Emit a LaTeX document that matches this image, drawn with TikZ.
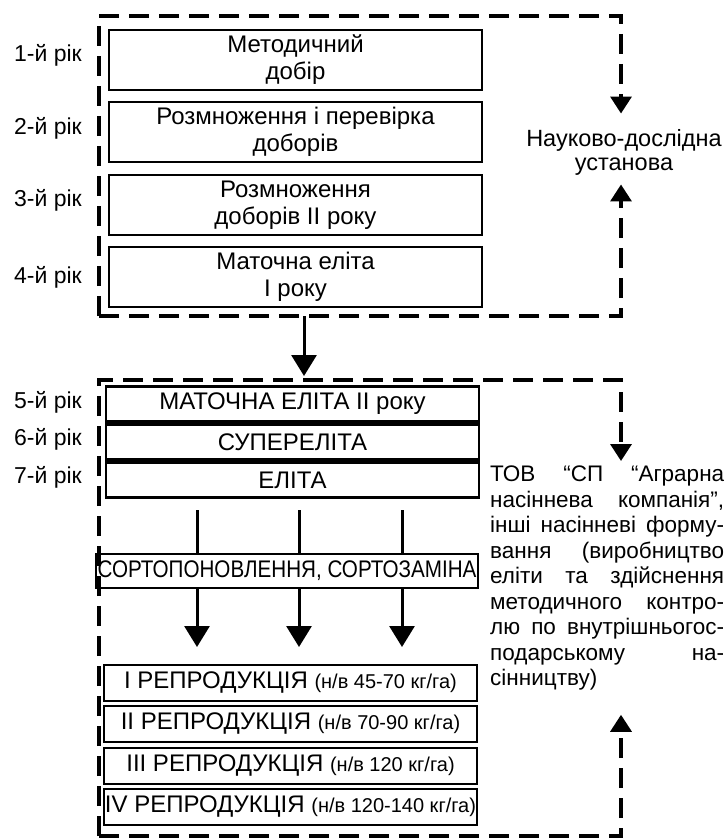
\documentclass[tikz,border=0pt]{standalone}
\usepackage{fontspec}
\setmainfont{Liberation Sans}
\newfontfamily\narrowfont[FakeStretch=0.86]{Liberation Sans}
\usetikzlibrary{arrows.meta}

\newcommand\rate[1]{{\fontsize{20}{22}\selectfont(#1)}}
\newcommand\fullline[1]{\makebox[234pt][l]{#1}}

\tikzset{
  stage/.style={draw,line width=2.2pt,minimum width=373pt,minimum height=60pt,
    inner sep=0pt,align=center,font=\fontsize{24}{27}\selectfont},
  lowstage/.style={stage,minimum height=35pt},
  frame/.style={line width=3.5pt,dash pattern=on 20pt off 10pt},
  sidetip/.style={-{Triangle[width=21pt,length=17pt]}},
  flow/.style={line width=3pt,-{Triangle[width=25pt,length=21pt]}},
  year/.style={font=\fontsize{23}{25}\selectfont}
}

\begin{document}
\begin{tikzpicture}[x=1pt,y=-1pt]
    \useasboundingbox (0,0) rectangle (727,840);

    % years
    \foreach \n/\y in {1/55,2/128,3/200,4/277,5/402,6/439,7/477}
        \node[year] (y\n) at (48,\y) {\n-й рік};

    % research stages
    \node[stage] (b1) at (295.5,60) {Методичний\\добір};
    \node[stage] (b2) at (295.5,132) {Розмноження і перевірка\\доборів};
    \node[stage] (b3) at (295.5,205) {Розмноження\\доборів II року};
    \node[stage] (b4) at (295.5,277) {Маточна еліта\\I року};

    % research frame
    \coordinate (f1sw) at (99,316);
    \coordinate (f1nw) at (99,16);
    \coordinate (f1ne) at (621,16);
    \coordinate (f1se) at (621,316);
    \node[align=center,font=\fontsize{23.5}{24}\selectfont] (inst) at (624,152)
        {Науково-дослідна\\установа};
    \draw[frame,sidetip] (f1sw) -- (f1nw) -- (f1ne) -- ([yshift=12pt]inst.north -| f1ne);
    \draw[frame,sidetip] (f1sw) -- (f1se) -- ([yshift=-6pt]inst.south -| f1se);

    % transfer
    \coordinate (f1out) at (304,316);
    \coordinate (f2nw) at (99,380);
    \draw[flow,shorten >=4pt] (f1out) -- (f1out |- f2nw);

    % elite stages
    \node[lowstage] (e1) at (292.5,404) {МАТОЧНА ЕЛІТА II року};
    \node[lowstage] (e2) at (292.5,442) {СУПЕРЕЛІТА};
    \node[lowstage] (e3) at (292.5,480) {ЕЛІТА};

    \node[lowstage,minimum width=382pt,minimum height=34pt,font=\narrowfont\fontsize{24}{27}\selectfont]
        (sorto) at (287,571) {СОРТОПОНОВЛЕННЯ, СОРТОЗАМІНА};

    % flows
    \foreach \x in {197,299,402} {
        \draw[line width=3pt] (\x,510) -- (\x,0 |- sorto.north);
        \draw[flow] (\x,0 |- sorto.south) -- (\x,647);
    }

    % reproductions
    \node[lowstage,minimum height=36pt] (r1) at (290.5,683) {I РЕПРОДУКЦІЯ \rate{н/в 45-70 кг/га}};
    \node[lowstage,minimum height=36pt] (r2) at (290.5,724) {II РЕПРОДУКЦІЯ \rate{н/в 70-90 кг/га}};
    \node[lowstage,minimum height=36pt] (r3) at (290.5,766) {III РЕПРОДУКЦІЯ \rate{н/в 120 кг/га}};
    \node[lowstage,minimum height=36pt] (r4) at (290.5,807) {IV РЕПРОДУКЦІЯ \rate{н/в 120-140 кг/га}};

    % seed company frame
    \coordinate (f2sw) at (99,836);
    \coordinate (f2ne) at (621,380);
    \coordinate (f2se) at (621,836);
    \node[anchor=north west,inner sep=0pt,text width=234pt,align=left,
        font=\fontsize{22.5}{25.5}\selectfont] (firm) at (490,466) {%
        \fullline{ТОВ\hfill“СП\hfill“Аграрна}\\
        \fullline{насіннева\hfill компанія”,}\\
        \fullline{інші\hfill насінневі\hfill форму-}\\
        \fullline{вання\hfill (виробництво}\\
        \fullline{еліти\hfill та\hfill здійснення}\\
        \fullline{методичного\hfill контро-}\\
        \fullline{лю\hfill по\hfill внутрішньогос-}\\
        \fullline{подарському\hfill на-}\\
        сінництву)};
    \draw[frame,sidetip] (f2sw) -- (f2nw) -- (f2ne) -- ([yshift=5pt]firm.north -| f2ne);
    \draw[frame,sidetip] (f2sw) -- (f2se) -- ([yshift=-24pt]firm.south -| f2se);
\end{tikzpicture}
\end{document}
